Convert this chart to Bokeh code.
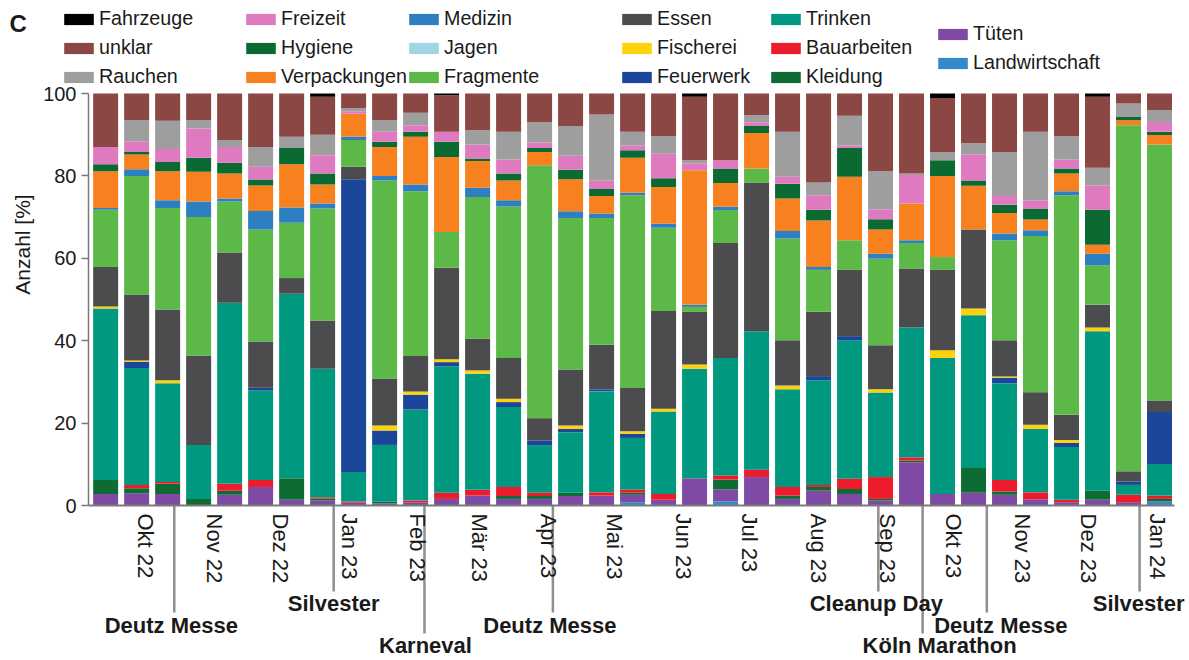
import math
import pandas as pd
from bokeh.plotting import figure
from bokeh.models import (ColumnDataSource, Range1d, FixedTicker, Legend,
                          LegendItem, Label)
from bokeh.embed import file_html
from bokeh.resources import INLINE

# ---------------------------------------------------------------- data
# fortnightly sampling dates
dates = ["2022-09-13", "2022-09-27", "2022-10-11", "2022-10-25", "2022-11-08",
         "2022-11-22", "2022-12-06", "2022-12-20", "2023-01-03", "2023-01-17",
         "2023-01-31", "2023-02-14", "2023-02-28", "2023-03-14", "2023-03-28",
         "2023-04-11", "2023-04-25", "2023-05-09", "2023-05-23", "2023-06-06",
         "2023-06-20", "2023-07-04", "2023-07-18", "2023-08-01", "2023-08-15",
         "2023-08-29", "2023-09-12", "2023-09-26", "2023-10-10", "2023-10-24",
         "2023-11-07", "2023-11-21", "2023-12-05", "2023-12-19", "2024-01-02"]

# share of items per category [%], one value per sampling date
landwirtschaft = [0, 0, 0, 0, 0, 0, 0, 0, 0, 0, 0, 0, 0, 0, 0, 0, 0, 0.8, 0, 0,
                  1.0, 0, 0, 0, 0, 0, 0, 0, 0, 0, 0, 0, 0, 0, 1.0]
tueten = [2.8, 3.0, 2.8, 0, 2.6, 4.5, 1.4, 1.2, 0.7, 0.5, 0.7, 1.6, 2.4, 1.6, 1.6,
          2.3, 2.4, 1.8, 1.4, 6.6, 2.9, 6.9, 1.6, 3.6, 2.8, 1.2, 10.5, 2.8, 3.1,
          2.6, 1.5, 0.8, 1.4, 0.8, 0]
kleidung = [3.4, 1.2, 2.5, 1.6, 1.0, 0, 5.2, 0.5, 0, 0.4, 0, 0, 0, 0.7, 0.7, 0.8,
            0, 0.5, 0, 0, 2.4, 0, 0.8, 0.9, 1.2, 0.4, 0.4, 0, 6.0, 0.8, 0, 0,
            2.2, 0, 0.6]
bauarbeiten = [0, 0.8, 0.4, 0, 1.7, 1.7, 0, 0.3, 0.3, 0, 0.5, 1.5, 1.4, 2.2, 0.8,
               0, 0.8, 0.8, 1.4, 0, 1.0, 1.8, 2.1, 0.5, 2.5, 5.3, 0.8, 0, 0, 2.8,
               1.7, 0.6, 0, 1.8, 0.8]
trinken = [41.6, 28.4, 24.0, 13.1, 43.9, 21.7, 44.8, 31.2, 7.1, 13.8, 22.1, 30.7,
           28.2, 19.4, 11.5, 14.7, 24.5, 12.5, 20.0, 26.6, 28.5, 33.6, 23.7, 25.4,
           33.6, 20.5, 31.5, 33.0, 37.1, 23.5, 15.4, 12.8, 38.7, 2.4, 7.7]
feuerwerk = [0, 1.4, 0, 0, 0, 0.7, 0, 0, 71.1, 3.5, 3.6, 1.0, 0, 1.2, 1.2, 0.8,
             0.5, 1.0, 0, 0, 0, 0, 0, 1.0, 1.0, 0, 0, 0, 0, 1.3, 0, 1.0, 0, 0.8,
             12.6]
fischerei = [0.5, 0.4, 0.7, 0, 0, 0, 0, 0, 0, 1.2, 0.8, 0.7, 0.8, 0.8, 0, 0.8, 0,
             0.6, 0.7, 1.0, 0, 0, 0.9, 0, 0, 0.8, 0, 1.9, 1.6, 0.3, 1.0, 0.7, 0.9,
             0, 0]
essen = [9.6, 16.0, 17.2, 21.7, 12.2, 11.2, 3.8, 11.7, 3.0, 11.4, 8.6, 22.2, 7.7,
         9.9, 5.4, 13.6, 10.8, 10.5, 23.7, 12.8, 27.9, 36.1, 11.0, 15.6, 16.1,
         10.7, 14.3, 19.5, 19.2, 8.8, 7.9, 6.1, 5.5, 2.5, 2.8]
fragmente = [13.9, 28.8, 24.6, 33.6, 12.4, 27.2, 13.4, 27.2, 6.5, 48.1, 40.0, 8.7,
             34.4, 36.8, 61.4, 36.8, 30.8, 46.8, 20.2, 1.2, 8.0, 3.4, 24.7, 10.2,
             7.2, 21.0, 6.2, 3.1, 0, 24.3, 37.9, 53.3, 9.6, 84.0, 62.1]
jagen = [0] * 35
medizin = [0.4, 1.6, 1.9, 3.8, 0.7, 4.5, 3.7, 1.2, 0.8, 1.1, 1.6, 0, 2.2, 1.5, 0,
           1.6, 1.1, 0.6, 1.0, 0.5, 0.8, 0, 1.8, 0.7, 0, 1.2, 0.7, 0, 0, 1.6, 1.4,
           1.0, 2.8, 0, 0]
verpackungen = [8.9, 3.6, 7.0, 7.2, 6.1, 6.2, 10.5, 4.6, 5.6, 7.0, 11.6, 18.2, 6.5,
                4.8, 3.2, 7.8, 4.2, 8.5, 8.9, 32.7, 5.8, 8.6, 7.9, 11.3, 15.4, 5.9,
                8.9, 19.7, 10.6, 5.0, 2.6, 4.3, 2.2, 1.2, 2.3]
hygiene = [1.7, 0.6, 2.3, 3.4, 2.6, 1.4, 4.0, 2.7, 0, 1.3, 1.2, 3.7, 0.6, 1.7, 1.0,
           2.3, 1.7, 1.8, 2.1, 0, 3.5, 1.7, 3.6, 2.6, 7.0, 2.5, 0, 3.8, 1.3, 2.0,
           2.7, 1.2, 8.5, 0.8, 0.8]
freizeit = [4.2, 2.6, 3.1, 7.1, 3.8, 3.1, 0, 4.4, 0.6, 2.4, 1.6, 2.4, 3.4, 3.4, 1.3,
            3.4, 2.1, 1.2, 6.0, 1.6, 2.0, 0.9, 1.7, 3.5, 0.6, 2.4, 6.9, 0, 6.3,
            2.1, 2.0, 2.2, 5.9, 0, 2.4]
rauchen = [0, 5.1, 6.9, 2.0, 1.7, 4.8, 2.7, 5.0, 0.8, 2.8, 3.0, 0, 3.5, 6.7, 5.0,
           7.2, 16.0, 3.3, 4.3, 0.8, 0, 1.7, 10.9, 3.1, 7.2, 9.2, 0.4, 2.0, 2.7,
           10.7, 16.6, 5.7, 4.3, 3.3, 2.9]
unklar = [13.0, 6.5, 6.6, 6.5, 11.3, 13.0, 10.5, 9.2, 3.5, 6.5, 4.7, 8.9, 8.9, 9.3,
          6.9, 7.9, 5.1, 9.3, 10.3, 15.4, 16.2, 5.3, 9.3, 21.6, 5.4, 18.9, 19.4,
          13.1, 12.1, 14.2, 9.3, 10.3, 17.2, 2.4, 4.0]
fahrzeuge = [0, 0, 0, 0, 0, 0, 0, 0.8, 0, 0, 0, 0.4, 0, 0, 0, 0, 0, 0, 0, 0.8,
             0, 0, 0, 0, 0, 0, 0, 1.1, 0, 0, 0, 0, 0.8, 0, 0]

# stacking order, bottom to top
categories = ["Landwirtschaft", "Tüten", "Kleidung", "Bauarbeiten", "Trinken",
              "Feuerwerk", "Fischerei", "Essen", "Fragmente", "Jagen", "Medizin",
              "Verpackungen", "Hygiene", "Freizeit", "Rauchen", "unklar",
              "Fahrzeuge"]
series = [landwirtschaft, tueten, kleidung, bauarbeiten, trinken, feuerwerk,
          fischerei, essen, fragmente, jagen, medizin, verpackungen, hygiene,
          freizeit, rauchen, unklar, fahrzeuge]
colors = ["#3489c9", "#7f4aa3", "#0f6b34", "#ec1c2c", "#009980", "#1b469a",
          "#fdd20a", "#4c4c4e", "#5cb947", "#9fd6e6", "#2e7fc1", "#f7811f",
          "#0b6a32", "#e07ac0", "#9e9e9e", "#8b4744", "#000000"]

month_starts = ["2022-10-01", "2022-11-01", "2022-12-01", "2023-01-01",
                "2023-02-01", "2023-03-01", "2023-04-01", "2023-05-01",
                "2023-06-01", "2023-07-01", "2023-08-01", "2023-09-01",
                "2023-10-01", "2023-11-01", "2023-12-01", "2024-01-01"]
month_labels = ["Okt 22", "Nov 22", "Dez 22", "Jan 23", "Feb 23", "Mär 23",
                "Apr 23", "Mai 23", "Jun 23", "Jul 23", "Aug 23", "Sep 23",
                "Okt 23", "Nov 23", "Dez 23", "Jan 24"]

event_names = ["Deutz Messe", "Silvester", "Karneval", "Deutz Messe",
               "Cleanup Day", "Köln Marathon", "Deutz Messe", "Silvester"]
event_dates = ["2022-10-14", "2022-12-25", "2023-02-04", "2023-04-03",
               "2023-08-28", "2023-09-17", "2023-10-16", "2023-12-24"]

# ---------------------------------------------------------------- layout
W, H = 1189, 660
ORIGIN = pd.Timestamp("2022-10-01")
ORIGIN_PX = 145.0        # canvas x of the first month tick
PX_PER_DAY = 2.214
AXIS_Y_PX = 505.0        # canvas y of the 0 % line
PX_PER_PCT = 4.12
YAXIS_PX = 88.0
XAXIS_END_PX = 1174.0
BAR_PX = 25.0

# label tier of every event: (line length below axis, label centre below axis)
event_tier = [1, 0, 2, 1, 0, 2, 1, 0]
tier_line = [86, 107, 128]
tier_text = [98, 120, 140]
event_text_shift = [-3, 0, 1, -3, -2, 17, 14, -1]   # px


def to_day(d):
    return (pd.Timestamp(d) - ORIGIN).days


def px_to_x(px):
    return (px - ORIGIN_PX) / PX_PER_DAY


bar_x = [to_day(d) for d in dates]
tick_x = [to_day(d) for d in month_starts]
event_x = [to_day(d) for d in event_dates]

FONT = "Liberation Sans"
INK = "#1a1a1a"
AXIS_GREY = "#7a7a7a"

p = figure(width=W, height=H, title=None, output_backend="svg",
           toolbar_location=None,
           x_range=Range1d(px_to_x(0), px_to_x(W)),
           y_range=Range1d((AXIS_Y_PX - H) / PX_PER_PCT, AXIS_Y_PX / PX_PER_PCT),
           min_border=0, min_border_left=0, min_border_right=0,
           min_border_top=0, min_border_bottom=0)
p.outline_line_color = None
p.grid.visible = False
p.background_fill_color = "white"
p.border_fill_color = "white"

# ---------------------------------------------------------------- bars
src = ColumnDataSource(dict(x=bar_x, **{c: v for c, v in zip(categories, series)}))
renderers = p.vbar_stack(categories, x="x", width=BAR_PX / PX_PER_DAY,
                         fill_color=colors, line_color=None, source=src)
rmap = dict(zip(categories, renderers))

# ---------------------------------------------------------------- axes
xa = p.xaxis[0]
xa.fixed_location = 0
xa.bounds = (px_to_x(YAXIS_PX), px_to_x(XAXIS_END_PX))
xa.ticker = FixedTicker(ticks=tick_x, minor_ticks=[])
xa.major_label_overrides = {t: l for t, l in zip(tick_x, month_labels)}
xa.major_label_orientation = "vertical"
xa.major_tick_out = 0
xa.major_tick_in = 0
xa.minor_tick_out = 0
xa.minor_tick_in = 0
xa.major_label_standoff = 8
xa.major_label_text_font = FONT
xa.major_label_text_font_size = "22px"
xa.major_label_text_color = INK
xa.axis_line_color = AXIS_GREY
xa.axis_line_width = 2

ya = p.yaxis[0]
ya.fixed_location = px_to_x(YAXIS_PX)
ya.bounds = (0, 100)
ya.ticker = FixedTicker(ticks=[0, 20, 40, 60, 80, 100], minor_ticks=[])
ya.major_tick_out = 7
ya.major_tick_in = 0
ya.minor_tick_out = 0
ya.minor_tick_in = 0
ya.major_tick_line_color = AXIS_GREY
ya.major_tick_line_width = 1.5
ya.major_label_standoff = 5
ya.major_label_text_font = FONT
ya.major_label_text_font_size = "20px"
ya.major_label_text_color = INK
ya.axis_line_color = AXIS_GREY
ya.axis_line_width = 1.5

p.add_layout(Label(x=22, y=H - 244, x_units="screen", y_units="screen",
                   text="Anzahl [%]", angle=math.pi / 2, text_align="center",
                   text_baseline="middle", text_font=FONT,
                   text_font_size="21px", text_color=INK))

p.add_layout(Label(x=9, y=H - 23, x_units="screen", y_units="screen", text="C",
                   text_font=FONT, text_font_style="bold", text_font_size="24px",
                   text_baseline="middle", text_color=INK))

# ---------------------------------------------------------------- events
ev_src = ColumnDataSource(dict(
    x=event_x, y0=[0] * len(event_x),
    y1=[-tier_line[t] / PX_PER_PCT for t in event_tier]))
p.segment(x0="x", y0="y0", x1="x", y1="y1", source=ev_src,
          line_color="#8f8f8f", line_width=2.5)

for name, ex, tier, shift in zip(event_names, event_x, event_tier, event_text_shift):
    p.add_layout(Label(x=ex + shift / PX_PER_DAY, x_units="data",
                       y=H - (AXIS_Y_PX + tier_text[tier]), y_units="screen",
                       text=name, text_align="center", text_baseline="middle",
                       text_font=FONT, text_font_style="bold",
                       text_font_size="22px", text_color=INK))

# ---------------------------------------------------------------- legend
legend_columns = [
    (60, 10, ["Fahrzeuge", "unklar", "Rauchen"]),
    (242, 10, ["Freizeit", "Hygiene", "Verpackungen"]),
    (405, 10, ["Medizin", "Jagen", "Fragmente"]),
    (618, 10, ["Essen", "Fischerei", "Feuerwerk"]),
    (767, 10, ["Trinken", "Bauarbeiten", "Kleidung"]),
    (934, 24, ["Tüten", "Landwirtschaft"]),
]
ITEM_H, GAP = 22, 6
for lx, top, names in legend_columns:
    items = [LegendItem(label=n, renderers=[rmap[n]]) for n in names]
    height = len(names) * ITEM_H + (len(names) - 1) * GAP
    leg = Legend(items=items, location=(lx, H - top - height),
                 orientation="vertical", padding=0, margin=0, spacing=GAP,
                 glyph_width=37, glyph_height=14, label_standoff=2,
                 label_height=ITEM_H, label_text_font=FONT,
                 label_text_font_size="19.7px", label_text_color=INK,
                 border_line_color=None, background_fill_alpha=0)
    p.add_layout(leg)

open("out.html", "w").write(file_html(p, INLINE))
